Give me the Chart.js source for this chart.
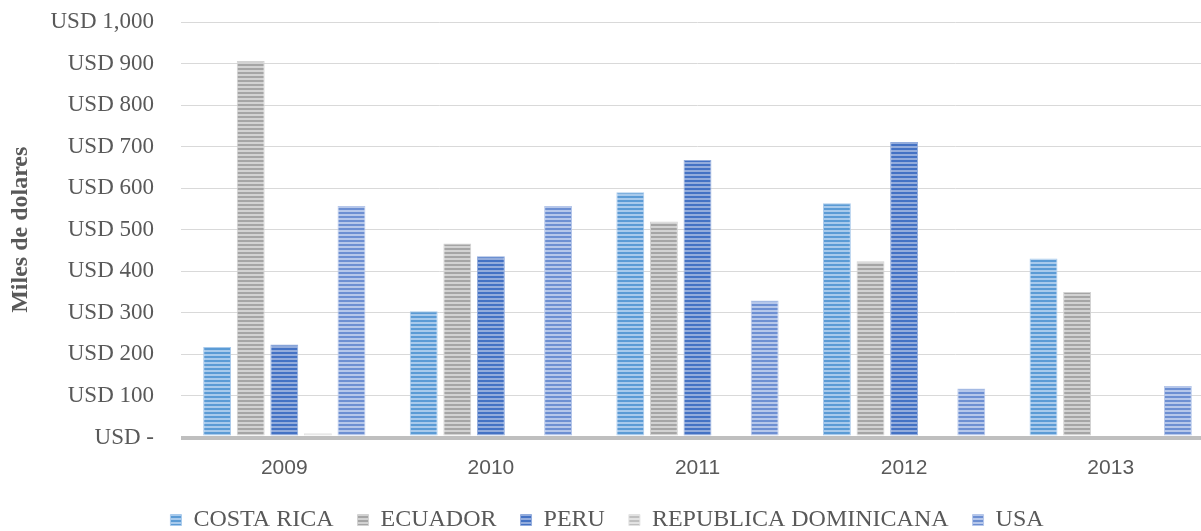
<!DOCTYPE html>
<html>
<head>
<meta charset="utf-8">
<script src="https://cdn.jsdelivr.net/npm/chart.js@4"></script>
<style>
  html, body { margin: 0; padding: 0; background: #fff; overflow: hidden; }
  #wrap { width: 1214px; height: 531px; }
</style>
</head>
<body>
<div id="wrap"><canvas id="myChart" width="1214" height="531"></canvas></div>
<script>
// Chart data
const years = ['2009', '2010', '2011', '2012', '2013'];
const costaRica = [218, 304, 590, 564, 431];
const ecuador = [906, 467, 520, 424, 350];
const peru = [224, 436, 668, 711, 0];
const repDominicana = [10, 5, 0, 0, 0];
const usa = [557, 557, 330, 118, 124];

const seriesNames = ['COSTA RICA', 'ECUADOR', 'PERU', 'REPUBLICA DOMINICANA', 'USA'];
const seriesData = [costaRica, ecuador, peru, repDominicana, usa];
// dark stripe / light stripe
const seriesColors = [
    ['#5b9bd5', '#a8caec'],
    ['#a5a5a5', '#d2d2d2'],
    ['#4472c4', '#93acdc'],
    ['#bfbfbf', '#e2e2e2'],
    ['#6d8fd2', '#b6c7ea']
];

const serif = "'Liberation Serif', 'Times New Roman', serif";
const textGray = '#595959';

// horizontal stripes like the office chart fill
function stripes(dark, light) {
    const c = document.createElement('canvas');
    c.width = 1;
    c.height = 4;
    const g = c.getContext('2d');
    g.fillStyle = dark;
    g.fillRect(0, 0, 1, 2);
    g.fillStyle = light;
    g.fillRect(0, 2, 1, 2);
    return g.createPattern(c, 'repeat');
}

function usdLabel(v) {
    if (v === 0) return 'USD -';
    return 'USD ' + v.toLocaleString('en-US');
}

// keep the legend row a fixed height so the wide label padding
// doesn't eat the plot area
const legendHeight = {
    id: 'legendHeight',
    beforeUpdate(chart) {
        const lg = chart.legend;
        if (lg && !lg._fixed) {
            const fit = lg.fit;
            lg.fit = function () {
                fit.call(this);
                this.height = 47;
            };
            lg._fixed = true;
        }
    }
};

document.addEventListener('DOMContentLoaded', () => {
    const ctx = document.getElementById('myChart').getContext('2d');

    const datasets = seriesNames.map((name, i) => ({
        label: name,
        data: seriesData[i],
        backgroundColor: stripes(seriesColors[i][0], seriesColors[i][1]),
        borderColor: seriesColors[i][1],
        borderWidth: 1,
        categoryPercentage: 0.813,
        barPercentage: 0.83
    }));

    new Chart(ctx, {
        type: 'bar',
        data: { labels: years, datasets: datasets },
        plugins: [legendHeight],
        options: {
            responsive: false,
            animation: false,
            layout: { padding: { top: 22, right: 0, bottom: 0, left: 0 } },
            plugins: {
                tooltip: { enabled: false },
                legend: {
                    position: 'bottom',
                    labels: {
                        boxWidth: 11,
                        boxHeight: 11,
                        padding: 24,
                        color: textGray,
                        font: { family: serif, size: 24 }
                    }
                }
            },
            scales: {
                x: {
                    afterFit: (s) => { s.height = 46.5; },
                    grid: { display: false },
                    border: { display: false },
                    ticks: {
                        color: textGray,
                        padding: 10,
                        font: { family: "'Liberation Sans', Arial, sans-serif", size: 21 }
                    }
                },
                y: {
                    min: 0,
                    max: 1000,
                    afterFit: (s) => {
                        s.width = 181;
                        s.paddingTop = 0;
                        s.paddingBottom = 0;
                    },
                    border: { display: false },
                    grid: {
                        drawTicks: false,
                        color: (c) => c.tick && c.tick.value === 0 ? '#bfbfbf' : '#d9d9d9',
                        lineWidth: (c) => c.tick && c.tick.value === 0 ? 4 : 1
                    },
                    ticks: {
                        stepSize: 100,
                        padding: 27,
                        color: textGray,
                        font: { family: serif, size: 23 },
                        callback: usdLabel
                    },
                    title: {
                        display: true,
                        text: 'Miles de dolares',
                        color: textGray,
                        padding: { top: 6, bottom: 0 },
                        font: { family: serif, size: 24, weight: 'bold' }
                    }
                }
            }
        }
    });
});
</script>
</body>
</html>
